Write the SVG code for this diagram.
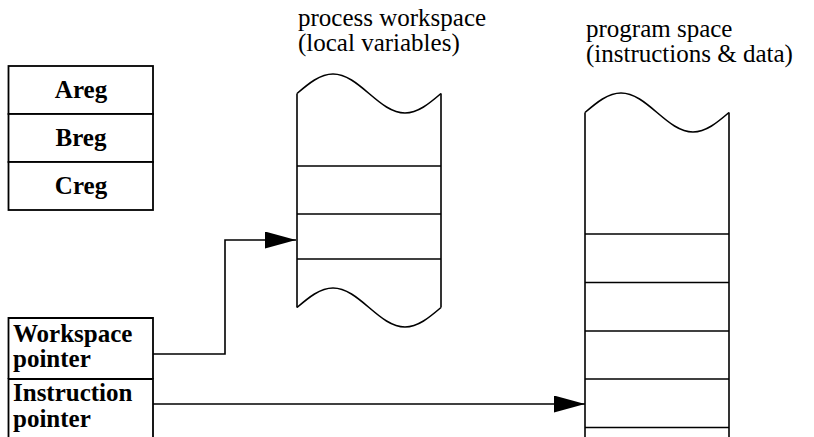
<svg xmlns="http://www.w3.org/2000/svg" width="814" height="437" viewBox="0 0 814 437">
  <style>
    .box { fill: #fff; stroke: #000; stroke-width: 1.8; }
    .ln { fill: none; stroke: #000; stroke-width: 1.6; }
    .reg { font-weight: bold; font-size: 25px; fill: #000; }
    .cap { font-size: 25px; fill: #000; }
    .wire { fill: none; stroke: #000; stroke-width: 1.6; }
  </style>
  <defs>
    <marker id="arrow" markerUnits="userSpaceOnUse" markerWidth="32" markerHeight="18" refX="31" refY="8.5" orient="auto">
      <path d="M0,0 L31,8.5 L0,17 Z" fill="#000"/>
    </marker>
  </defs>

  <rect width="814" height="437" fill="#fff"/>

  <g font-family="Liberation Serif, Tinos, Times New Roman, Times, Nimbus Roman, FreeSerif, Noto Serif, DejaVu Serif, serif">
  <!-- register stack -->
  <g id="areg">
    <rect class="box" x="8.5" y="66" width="144.5" height="48"/>
    <text class="reg" x="81" y="98" text-anchor="middle">Areg</text>
  </g>
  <g id="breg">
    <rect class="box" x="8.5" y="114" width="144.5" height="48"/>
    <text class="reg" x="81" y="146" text-anchor="middle">Breg</text>
  </g>
  <g id="creg">
    <rect class="box" x="8.5" y="162" width="144.5" height="48"/>
    <text class="reg" x="81" y="194" text-anchor="middle">Creg</text>
  </g>

  <!-- pointer registers -->
  <g id="workspace-pointer">
    <path class="box" d="M8.5,379 V318 H153 V379"/>
    <text class="reg" x="13" y="342">Workspace</text>
    <text class="reg" x="13" y="367">pointer</text>
  </g>
  <g id="instruction-pointer">
    <path class="box" d="M8.5,440 V379 H153 V440"/>
    <text class="reg" x="13" y="401">Instruction</text>
    <text class="reg" x="13" y="427">pointer</text>
  </g>

  <!-- process workspace: stack frame with torn top and bottom -->
  <g id="process-workspace">
    <text class="cap" x="298" y="26">process workspace</text>
    <text class="cap" x="298" y="51">(local variables)</text>
    <path class="ln" d="M297,93.5 C308.7,83.5 320,74 333,74 C346,74 357.3,83.5 369,93.5 C380.7,103.5 392,113 405,113 C418,113 429.3,103.5 441,93.5"/>
    <path class="ln" d="M297,307.5 C308.7,297.5 320,288 333,288 C346,288 357.3,297.5 369,307.5 C380.7,317.5 392,327 405,327 C418,327 429.3,317.5 441,307.5"/>
    <line class="ln" x1="297" y1="93.5" x2="297" y2="307.5"/>
    <line class="ln" x1="441" y1="93.5" x2="441" y2="307.5"/>
    <line class="ln" x1="297" y1="166" x2="441" y2="166"/>
    <line class="ln" x1="297" y1="214" x2="441" y2="214"/>
    <line class="ln" x1="297" y1="259" x2="441" y2="259"/>
  </g>

  <!-- program space: instructions and data -->
  <g id="program-space">
    <text class="cap" x="586" y="37">program space</text>
    <text class="cap" x="586" y="62">(instructions &amp; data)</text>
    <path class="ln" d="M585,112.5 C596.7,102.5 608,93 621,93 C634,93 645.3,102.5 657,112.5 C668.7,122.5 680,132 693,132 C706,132 717.3,122.5 729,112.5"/>
    <line class="ln" x1="585" y1="112.5" x2="585" y2="437"/>
    <line class="ln" x1="729" y1="112.5" x2="729" y2="437"/>
    <line class="ln" x1="585" y1="234" x2="729" y2="234"/>
    <line class="ln" x1="585" y1="282.5" x2="729" y2="282.5"/>
    <line class="ln" x1="585" y1="331" x2="729" y2="331"/>
    <line class="ln" x1="585" y1="379" x2="729" y2="379"/>
    <line class="ln" x1="585" y1="427.5" x2="729" y2="427.5"/>
  </g>

  <!-- pointer connectors -->
  <g id="connectors">
    <path class="wire" d="M153,354 H225 V240 H296" marker-end="url(#arrow)"/>
    <path class="wire" d="M153,404 H585" marker-end="url(#arrow)"/>
  </g>
  </g>
</svg>
